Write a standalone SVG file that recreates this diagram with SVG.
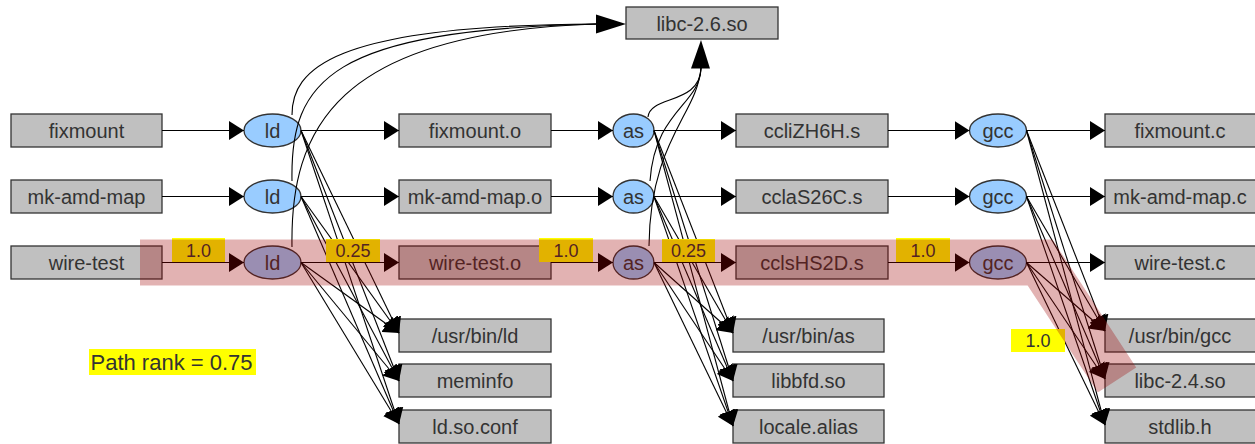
<svg xmlns="http://www.w3.org/2000/svg" width="1255" height="444" viewBox="0 0 1255 444">
<style>
.box{fill:#c0c0c0;stroke:#333;stroke-width:1.3}
.ell{fill:#99ccff;stroke:#333;stroke-width:1.3}
.t{font-family:"Liberation Sans",Arial,sans-serif;font-size:20px;fill:#333;text-anchor:middle}
.lbl{fill:#ffff00}
.lt{font-family:"Liberation Sans",Arial,sans-serif;font-size:18px;fill:#333;text-anchor:middle}
.e{fill:none;stroke:#000;stroke-width:1.1}
.a{marker-end:url(#ah)}
.hd{fill:#000}
</style>
<defs>
<marker id="ah" viewBox="0 0 15 19" refX="15" refY="9.5" markerWidth="15" markerHeight="19" markerUnits="userSpaceOnUse" orient="auto">
<path d="M0,0 L15,9.5 L0,19 z" fill="#000"/>
</marker>
</defs>
<rect width="1255" height="444" fill="#fff"/>

<g id="n-fixmount"><rect class="box" x="11" y="114" width="151" height="33"/><text class="t" x="86.5" y="137.5">fixmount</text></g>
<g id="n-mkamdmap"><rect class="box" x="11" y="180" width="151" height="33"/><text class="t" x="86.5" y="203.5">mk-amd-map</text></g>
<g id="n-wiretest"><rect class="box" x="11" y="246" width="151" height="33"/><text class="t" x="86.5" y="269.5">wire-test</text></g>

<g id="n-ld1"><ellipse class="ell" cx="272.5" cy="130.5" rx="28.5" ry="16.5"/><text class="t" x="272.5" y="137.5">ld</text></g>
<g id="n-ld2"><ellipse class="ell" cx="272.5" cy="196.5" rx="28.5" ry="16.5"/><text class="t" x="272.5" y="203.5">ld</text></g>
<g id="n-ld3"><ellipse class="ell" cx="272.5" cy="262.5" rx="28.5" ry="16.5"/><text class="t" x="272.5" y="269.5">ld</text></g>

<g id="n-fixmount-o"><rect class="box" x="399" y="114" width="152" height="33"/><text class="t" x="475" y="137.5">fixmount.o</text></g>
<g id="n-mkamdmap-o"><rect class="box" x="399" y="180" width="152" height="33"/><text class="t" x="475" y="203.5">mk-amd-map.o</text></g>
<g id="n-wiretest-o"><rect class="box" x="399" y="246" width="152" height="33"/><text class="t" x="475" y="269.5">wire-test.o</text></g>

<g id="n-as1"><ellipse class="ell" cx="633.5" cy="130.5" rx="20.5" ry="16.5"/><text class="t" x="633.5" y="137.5">as</text></g>
<g id="n-as2"><ellipse class="ell" cx="633.5" cy="196.5" rx="20.5" ry="16.5"/><text class="t" x="633.5" y="203.5">as</text></g>
<g id="n-as3"><ellipse class="ell" cx="633.5" cy="262.5" rx="20.5" ry="16.5"/><text class="t" x="633.5" y="269.5">as</text></g>

<g id="n-ccliZH6H"><rect class="box" x="736" y="114" width="152" height="33"/><text class="t" x="812" y="137.5">ccliZH6H.s</text></g>
<g id="n-cclaS26C"><rect class="box" x="736" y="180" width="152" height="33"/><text class="t" x="812" y="203.5">cclaS26C.s</text></g>
<g id="n-cclsHS2D"><rect class="box" x="736" y="246" width="152" height="33"/><text class="t" x="812" y="269.5">cclsHS2D.s</text></g>

<g id="n-gcc1"><ellipse class="ell" cx="998" cy="130.5" rx="28.5" ry="16.5"/><text class="t" x="998" y="137.5">gcc</text></g>
<g id="n-gcc2"><ellipse class="ell" cx="998" cy="196.5" rx="28.5" ry="16.5"/><text class="t" x="998" y="203.5">gcc</text></g>
<g id="n-gcc3"><ellipse class="ell" cx="998" cy="262.5" rx="28.5" ry="16.5"/><text class="t" x="998" y="269.5">gcc</text></g>

<g id="n-fixmount-c"><rect class="box" x="1105" y="114" width="151" height="33"/><text class="t" x="1180" y="137.5">fixmount.c</text></g>
<g id="n-mkamdmap-c"><rect class="box" x="1105" y="180" width="151" height="33"/><text class="t" x="1180" y="203.5">mk-amd-map.c</text></g>
<g id="n-wiretest-c"><rect class="box" x="1105" y="246" width="151" height="33"/><text class="t" x="1180" y="269.5">wire-test.c</text></g>

<g id="n-libc26"><rect class="box" x="626" y="7" width="152" height="32"/><text class="t" x="702" y="30.5">libc-2.6.so</text></g>

<g id="n-usrbinld"><rect class="box" x="399" y="319" width="152" height="33"/><text class="t" x="475" y="342.5">/usr/bin/ld</text></g>
<g id="n-meminfo"><rect class="box" x="399" y="364" width="152" height="33"/><text class="t" x="475" y="387.5">meminfo</text></g>
<g id="n-ldsoconf"><rect class="box" x="399" y="410" width="152" height="33"/><text class="t" x="475" y="433.5">ld.so.conf</text></g>

<g id="n-usrbinas"><rect class="box" x="733" y="319" width="151" height="33"/><text class="t" x="808.5" y="342.5">/usr/bin/as</text></g>
<g id="n-libbfd"><rect class="box" x="733" y="364" width="151" height="33"/><text class="t" x="808.5" y="387.5">libbfd.so</text></g>
<g id="n-localealias"><rect class="box" x="733" y="410" width="151" height="33"/><text class="t" x="808.5" y="433.5">locale.alias</text></g>

<g id="n-usrbingcc"><rect class="box" x="1105" y="319" width="151" height="33"/><text class="t" x="1180" y="342.5">/usr/bin/gcc</text></g>
<g id="n-libc24"><rect class="box" x="1105" y="364" width="151" height="33"/><text class="t" x="1180" y="387.5">libc-2.4.so</text></g>
<g id="n-stdlib"><rect class="box" x="1105" y="410" width="151" height="33"/><text class="t" x="1180" y="433.5">stdlib.h</text></g>

<g id="connectors">
<path class="e a" d="M162,130.5 H244"/><path class="e a" d="M162,196.5 H244"/><path class="e a" d="M162,262.5 H244"/>
<path class="e a" d="M301,130.5 H399"/><path class="e a" d="M301,196.5 H399"/><path class="e a" d="M301,262.5 H399"/>
<path class="e a" d="M551,130.5 H613"/><path class="e a" d="M551,196.5 H613"/><path class="e a" d="M551,262.5 H613"/>
<path class="e a" d="M654,130.5 H736"/><path class="e a" d="M654,196.5 H736"/><path class="e a" d="M654,262.5 H736"/>
<path class="e a" d="M888,130.5 H969.5"/><path class="e a" d="M888,196.5 H969.5"/><path class="e a" d="M888,262.5 H969.5"/>
<path class="e a" d="M1026.5,130.5 H1105"/><path class="e a" d="M1026.5,196.5 H1105"/><path class="e a" d="M1026.5,262.5 H1105"/>

<path class="e a" d="M301,130.5 L399,333"/><path class="e a" d="M301,130.5 L399,381"/><path class="e a" d="M301,130.5 L399,424"/>
<path class="e a" d="M301,196.5 L399,333"/><path class="e a" d="M301,196.5 L399,381"/><path class="e a" d="M301,196.5 L399,424"/>
<path class="e a" d="M301,262.5 L399,333"/><path class="e a" d="M301,262.5 L399,381"/><path class="e a" d="M301,262.5 L399,424"/>

<path class="e a" d="M654,130.5 L733,333"/><path class="e a" d="M654,130.5 L733,381"/><path class="e a" d="M654,130.5 L733,426"/>
<path class="e a" d="M654,196.5 L733,333"/><path class="e a" d="M654,196.5 L733,381"/><path class="e a" d="M654,196.5 L733,426"/>
<path class="e a" d="M654,262.5 L733,333"/><path class="e a" d="M654,262.5 L733,381"/><path class="e a" d="M654,262.5 L733,426"/>

<path class="e a" d="M1026.5,130.5 L1105,331"/><path class="e a" d="M1026.5,130.5 L1105,379"/><path class="e a" d="M1026.5,130.5 L1105,425"/>
<path class="e a" d="M1026.5,196.5 L1105,331"/><path class="e a" d="M1026.5,196.5 L1105,379"/><path class="e a" d="M1026.5,196.5 L1105,425"/>
<path class="e a" d="M1026.5,262.5 L1105,331"/><path class="e a" d="M1026.5,262.5 L1105,379"/><path class="e a" d="M1026.5,262.5 L1105,425"/>

<path class="e" d="M292,115 C292,70 330,25 597,24"/>
<path class="e" d="M292,181 C290,80 330,30 597,24"/>
<path class="e" d="M292,247 C290,130 335,32 597,24"/>
<polygon class="hd" points="596,14.5 626,24 596,33.5"/>

<path class="e" d="M648,117 C650,95 700,105 701,68"/>
<path class="e" d="M650,181 C655,110 700,105 701,68"/>
<path class="e" d="M649,246 C650,140 697,115 701,68"/>
<polygon class="hd" points="691,68.5 701,40 710,68.5"/>
</g>

<g id="edge-labels">
<rect class="lbl" x="172" y="238" width="53" height="24"/><text class="lt" x="198.5" y="256.5">1.0</text>
<rect class="lbl" x="326" y="239" width="54" height="23"/><text class="lt" x="353" y="256.5">0.25</text>
<rect class="lbl" x="539" y="238" width="54" height="24"/><text class="lt" x="566" y="256.5">1.0</text>
<rect class="lbl" x="662" y="239" width="53" height="23"/><text class="lt" x="688.5" y="256.5">0.25</text>
<rect class="lbl" x="896" y="238" width="54" height="24"/><text class="lt" x="923" y="256.5">1.0</text>
<rect class="lbl" x="1011" y="329" width="54" height="23"/><text class="lt" x="1038" y="347">1.0</text>
</g>

<g id="path-rank">
<rect class="lbl" x="89" y="349" width="167" height="26"/>
<text x="90.5" y="369.5" font-family="Liberation Sans, Arial, sans-serif" font-size="22" fill="#333">Path rank = 0.75</text>
</g>

<polyline id="highlight" points="140,262.5 1040,262.5 1117,380" fill="none" stroke="rgb(160,0,0)" stroke-opacity="0.3" stroke-width="46" stroke-linejoin="miter" stroke-linecap="butt"/>
</svg>
